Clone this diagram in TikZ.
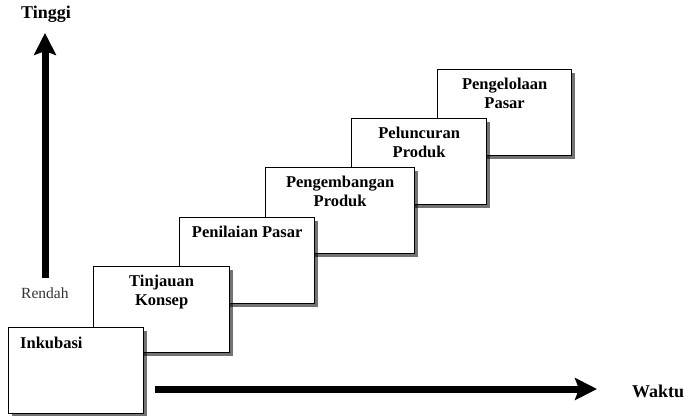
\documentclass[tikz,border=0pt]{standalone}
\usepackage{fontspec}
\setmainfont{Liberation Serif}
\usetikzlibrary{arrows.meta,shadows}

\tikzset{
  stepbox/.style={draw, rectangle, line width=1.3pt, fill=white, inner sep=0pt,
    minimum height=86pt, anchor=north west,
    drop shadow={shadow xshift=3pt, shadow yshift=-3pt, fill=black, opacity=.55}},
  steplabel/.style={font=\bfseries\fontsize{16.5}{19}\selectfont, align=center,
    inner sep=0pt, anchor=north},
  axislabel/.style={font=\bfseries\fontsize{18}{20}\selectfont, inner sep=0pt,
    anchor=base west},
  axisarrow/.style={line width=7pt, -{Stealth[length=22pt,width=22pt,inset=4pt]}},
}

\begin{document}
\begin{tikzpicture}[x=1pt, y=-1pt]
   \useasboundingbox (0,0) rectangle (690,415);

   % steps, back to front so the lower ones lie on top
   \foreach \nm/\lx/\ty/\bw/\lbl in {
      pasar/437/69/134/{Pengelolaan\\Pasar},
      luncur/351/118/135/{Peluncuran\\Produk},
      kembang/265/167/149/{Pengembangan\\Produk},
      nilai/179/217/135/{Penilaian Pasar},
      konsep/93/266/136/{Tinjauan\\Konsep}}
   {
   \node[stepbox, minimum width=\bw pt] (\nm) at (\lx,\ty) {};
   \node[steplabel] (\nm-txt) at ([yshift=-9pt]\nm.north) {\lbl};
   }

   % first step, text on the left
   \node[stepbox, minimum width=135pt] (inku) at (8,327) {};
   \node[steplabel, anchor=north west] (inku-txt)
      at ([xshift=12pt,yshift=-10pt]inku.north west) {Inkubasi};

   % axes
   \coordinate (vbot) at (45,278);
   \coordinate (vtop) at (45,33);
   \draw[axisarrow] (vbot) -- (vtop);
   \coordinate (hleft) at (155,389);
   \coordinate (hright) at (597,389);
   \draw[axisarrow] (hleft) -- (hright);

   \node[axislabel] (tinggi) at (21,18) {Tinggi};
   \node[font=\fontsize{15.5}{18}\selectfont, inner sep=0pt, anchor=base west,
      text=black!80] (rendah) at (21,298) {Rendah};
   \node[axislabel] (waktu) at (632,397) {Waktu};
\end{tikzpicture}
\end{document}
